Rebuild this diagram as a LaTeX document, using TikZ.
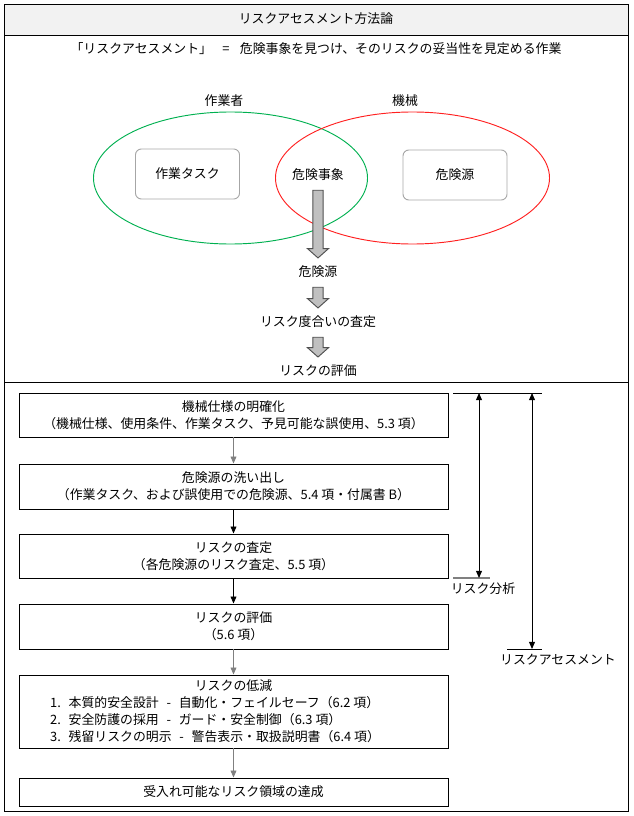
\documentclass[tikz,border=0pt]{standalone}
\usepackage{fontspec}
\setmainfont{Noto Sans CJK JP}
\usetikzlibrary{arrows.meta, positioning, shapes.geometric, calc}
\definecolor{cgreen}{HTML}{00B050}
\definecolor{cred}{HTML}{FF2020}
\definecolor{cgrey}{HTML}{808080}
\definecolor{cframe}{HTML}{A6A6A6}
\definecolor{ctitle}{HTML}{F2F2F2}
\definecolor{cfat}{HTML}{C0C0C0}
\definecolor{cfatline}{HTML}{505050}
\tikzset{
  every picture/.style={line width=0.8pt},
  txt/.style={font=\fontsize{11}{14.5}\selectfont, inner sep=1pt},
  venn/.style={draw=#1, ellipse, minimum width=8.22cm, minimum height=3.96cm},
  roundbox/.style={draw=cframe, rounded corners=5pt, minimum width=3.12cm, minimum height=1.5cm, txt},
  flowbox/.style={draw, minimum width=12.87cm, minimum height=#1, align=center, inner sep=2pt, txt},
  arrow/.style={-{Triangle[length=6pt, width=5pt]}, draw=#1},
  arrow/.default=black,
  span/.style={{Triangle[length=6pt, width=5pt]}-{Triangle[length=6pt, width=5pt]}},
  fatarrow/.style={draw=cfatline, fill=cfat, line width=0.8pt, line join=miter},
}
% grey block arrow from node #1 to node #2
\newcommand{\fatarrow}[2]{%
  \draw[fatarrow] let \p1=(#1.south), \p2=(#2.north) in
    ({\x1-4.3pt},{\y1-6.5pt}) -- ({\x1+4.3pt},{\y1-6.5pt}) -- ({\x1+4.3pt},{\y2+13.5pt})
    -- ({\x1+9pt},{\y2+13.5pt}) -- (\x1,{\y2+5.5pt}) -- ({\x1-9pt},{\y2+13.5pt})
    -- ({\x1-4.3pt},{\y2+13.5pt}) -- cycle;}

\begin{document}
\begin{tikzpicture}[x=0.03cm, y=-0.03cm]
  \useasboundingbox (0,0) rectangle (633,816);
  % frame and title bar
  \fill[ctitle] (4,4) rectangle (628,35);
  \draw (4,4) rectangle (628,811);
  \draw (4,35) -- (628,35);
  \draw (4,382) -- (628,382);
  \node[txt] (title) at (316,19) {リスクアセスメント方法論};
  \node[txt] (define) at (316,49) {「リスクアセスメント」\hspace{0.8em}=\hspace{0.8em}危険事象を見つけ、そのリスクの妥当性を見定める作業};

  % upper part: worker and machine
  \node[venn=cgreen] (worker) at (230.5,178) {};
  \node[venn=cred] (machine) at (412.5,178) {};
  \node[txt] (workerlbl) at (224,101) {作業者};
  \node[txt] (machinelbl) at (405,101) {機械};
  \node[roundbox] (task) at (187.5,174) {作業タスク};
  \node[roundbox] (source) at (455,175) {危険源};
  \node[txt] (event) at (318,175) {危険事象};
  \node[txt] (hazard) at (318,272) {危険源};
  \node[txt] (degree) at (318,322) {リスク度合いの査定};
  \node[txt] (judge) at (318,371) {リスクの評価};
  \fatarrow{event}{hazard}
  \fatarrow{hazard}{degree}
  \fatarrow{degree}{judge}

  % lower part: procedure
  \node[flowbox=1.32cm] (spec) at (233.5,415) {機械仕様の明確化\\（機械仕様、使用条件、作業タスク、予見可能な誤使用、5.3 項）};
  \node[flowbox=1.35cm] (find) at (233.5,486.5) {危険源の洗い出し\\（作業タスク、および誤使用での危険源、5.4 項・付属書 B）};
  \node[flowbox=1.32cm] (estim) at (233.5,556) {リスクの査定\\（各危険源のリスク査定、5.5 項）};
  \node[flowbox=1.35cm] (eval) at (233.5,626.5) {リスクの評価\\（5.6 項）};
  \node[flowbox=2.19cm] (reduce) at (233.5,711.5) {リスクの低減\\
    \makebox[11cm][l]{1.\hspace{0.6em}本質的安全設計\hspace{0.6em}-\hspace{0.6em}自動化・フェイルセーフ（6.2 項）}\\
    \makebox[11cm][l]{2.\hspace{0.6em}安全防護の採用\hspace{0.6em}-\hspace{0.6em}ガード・安全制御（6.3 項）}\\
    \makebox[11cm][l]{3.\hspace{0.6em}残留リスクの明示\hspace{0.6em}-\hspace{0.6em}警告表示・取扱説明書（6.4 項）}};
  \node[flowbox=0.84cm] (accept) at (233.5,792) {受入れ可能なリスク領域の達成};
  \draw[arrow=cgrey] (spec) -- (find);
  \draw[arrow] (find) -- (estim);
  \draw[arrow] (estim) -- (eval);
  \draw[arrow=cgrey] (eval) -- (reduce);
  \draw[arrow=cgrey] (reduce) -- (accept);

  % ranges on the right
  \coordinate (rangeL) at (453,393);
  \coordinate (rangeR) at (542,393);
  \coordinate (anaTop) at (479,393);
  \coordinate (anaBot) at (479,578);
  \coordinate (assTop) at (532,393);
  \coordinate (assBot) at (532,649);
  \draw (rangeL) -- (rangeR);
  \draw[cgrey, line width=1.2pt] (453,578) -- (490,578);
  \draw (507,649) -- (542,649);
  \draw[span] (anaTop) -- (anaBot);
  \draw[span] (assTop) -- (assBot);
  \node[txt] (analysis) at (483,589) {リスク分析};
  \node[txt] (assess) at (558,660) {リスクアセスメント};
\end{tikzpicture}
\end{document}
